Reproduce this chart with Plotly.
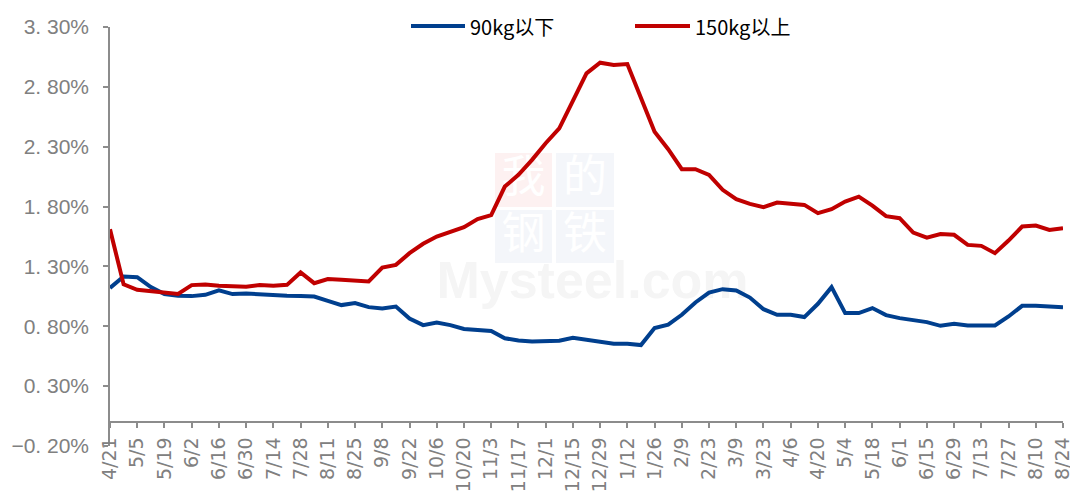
import pandas as pd
import plotly.graph_objects as go

# ---------------- data ----------------
start_date = "2022-04-21"
n_weeks = 71
dates = pd.date_range(start_date, periods=n_weeks, freq="7D")

series_names = ["90kg以下", "150kg以上"]

below_90kg = [1.12, 1.216, 1.21, 1.127, 1.07, 1.055, 1.052, 1.063, 1.10, 1.069,
              1.074, 1.066, 1.063, 1.055, 1.052, 1.049, 1.013, 0.977, 0.994, 0.96,
              0.949, 0.965, 0.865, 0.81, 0.832, 0.81, 0.777, 0.768, 0.76, 0.70,
              0.681, 0.673, 0.673, 0.679, 0.704, 0.687, 0.665, 0.654, 0.654, 0.643,
              0.785, 0.813, 0.896, 0.999, 1.082, 1.11, 1.099, 1.04, 0.943, 0.896,
              0.896, 0.877, 0.988, 1.127, 0.91, 0.91, 0.952, 0.893, 0.868, 0.854,
              0.835, 0.804, 0.821, 0.807, 0.807, 0.807, 0.882, 0.971, 0.971, 0.968,
              0.96]

above_150kg = [1.61, 1.15, 1.105, 1.094, 1.08, 1.07, 1.144, 1.15, 1.138, 1.13,
               1.13, 1.144, 1.138, 1.146, 1.25, 1.16, 1.194, 1.188, 1.185, 1.174,
               1.29, 1.313, 1.411, 1.489, 1.55, 1.589, 1.628, 1.695, 1.728, 1.967,
               2.065, 2.19, 2.329, 2.454, 2.69, 2.913, 3.002, 2.983, 2.99, 2.718,
               2.426, 2.279, 2.112, 2.112, 2.065, 1.94, 1.862, 1.823, 1.795, 1.834,
               1.823, 1.814, 1.745, 1.778, 1.842, 1.883, 1.808, 1.72, 1.703, 1.583,
               1.541, 1.57, 1.564, 1.48, 1.472, 1.411, 1.516, 1.633, 1.641, 1.605,
               1.62]

y_tick_vals = [-0.2, 0.3, 0.8, 1.3, 1.8, 2.3, 2.8, 3.3]
y_tick_text = ["−0. 20%", "0. 30%", "0. 80%", "1. 30%", "1. 80%", "2. 30%", "2. 80%", "3. 30%"]

x_tick_vals = list(dates[::2])
x_tick_text = [f"{d.month}/{d.day}" for d in x_tick_vals]

colors = ["#003F8E", "#C00000"]

# ---------------- geometry ----------------
# page body has an 8px default margin; the figure is sized to fit the window
OFF = 8
W, H = 1078 - OFF, 491 - OFF
L, R, T, B = 110 - OFF, 15, 27 - OFF, 45
PW, PH = W - L - R, H - T - B


def px(x):
    """window pixel x -> paper fraction"""
    return (x - OFF - L) / PW


def py(y):
    """window pixel y -> paper fraction"""
    return (H - B - (y - OFF)) / PH


fig = go.Figure()
for name, vals, col in zip(series_names, [below_90kg, above_150kg], colors):
    fig.add_trace(go.Scatter(x=dates, y=vals, mode="lines", name=name,
                             line=dict(color=col, width=4), showlegend=False))

axis_grey = "#8C8C8C"
label_grey = "#808080"

fig.update_layout(
    width=W, height=H,
    margin=dict(l=L, r=R, t=T, b=B, autoexpand=False),
    paper_bgcolor="white", plot_bgcolor="white",
    xaxis=dict(
        range=[dates[0], dates[-1]],
        tickvals=x_tick_vals, ticktext=x_tick_text, tickangle=-90,
        anchor="free", position=0.2 / 3.5, automargin=False,
        showline=True, linecolor=axis_grey, linewidth=1.5,
        ticks="outside", ticklen=5, tickcolor=axis_grey, tickwidth=1.5,
        showgrid=False, zeroline=False,
        tickfont=dict(family="DejaVu Sans", size=19, color=label_grey),
        ticklabelstandoff=2,
    ),
    yaxis=dict(
        range=[-0.2, 3.3], automargin=False,
        tickvals=y_tick_vals, ticktext=y_tick_text,
        showline=True, linecolor=axis_grey, linewidth=1.5,
        ticks="outside", ticklen=5, tickcolor=axis_grey, tickwidth=1.5,
        showgrid=False, zeroline=False,
        tickfont=dict(family="Liberation Sans", size=21, color=label_grey),
        ticklabelstandoff=10,
    ),
)

# ---------------- watermark (below traces) ----------------
wm = [("我", 495, 153, 552, 207, "#FDF1F1"),
      ("的", 556, 153, 614, 207, "#F4F6FA"),
      ("钢", 495, 210, 552, 263, "#F4F6FA"),
      ("铁", 556, 210, 614, 263, "#F4F6FA")]
for ch, x0, y0, x1, y1, fc in wm:
    fig.add_shape(type="rect", xref="paper", yref="paper",
                  x0=px(x0), x1=px(x1), y0=py(y1), y1=py(y0),
                  fillcolor=fc, line=dict(width=0), layer="below",
                  label=dict(text=ch, font=dict(family="Noto Sans CJK SC", size=44, color="white")))
fig.add_shape(type="rect", xref="paper", yref="paper",
              x0=px(450), x1=px(735), y0=py(305), y1=py(245),
              fillcolor="rgba(0,0,0,0)", line=dict(width=0), layer="below",
              label=dict(text="<b>Mysteel.com</b>",
                         font=dict(family="Liberation Sans", size=52, color="#F5F5F5")))

# ---------------- manual legend ----------------
legend_y = 26
leg = [(411, 465, 468), (635, 690, 693)]
for (lx0, lx1, tx), name, col in zip(leg, series_names, colors):
    fig.add_shape(type="line", xref="paper", yref="paper",
                  x0=px(lx0), x1=px(lx1), y0=py(legend_y), y1=py(legend_y),
                  line=dict(color=col, width=4))
    fig.add_annotation(x=px(tx), y=py(legend_y), xref="paper", yref="paper",
                       text=name, showarrow=False, xanchor="left", yanchor="middle",
                       font=dict(family="Noto Sans CJK SC", size=20, color="black"))

fig.write_html("out.html")
